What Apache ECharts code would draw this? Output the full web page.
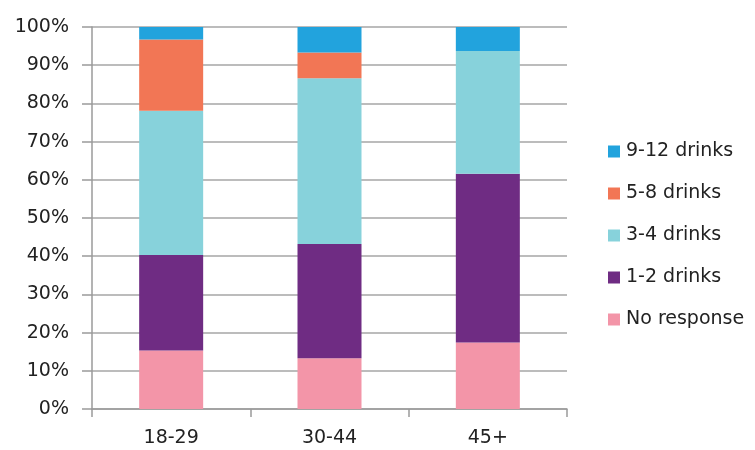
<!DOCTYPE html>
<html>
<head>
<meta charset="utf-8">
<script src="https://cdn.jsdelivr.net/npm/echarts@6/dist/echarts.min.js"></script>
<style>html,body{margin:0;padding:0;background:#fff;}#chart{width:755px;height:450px;}</style>
</head>
<body>
<div id="chart"></div>
<script>
var categories = ['18-29', '30-44', '45+'];
var noResponse = [15.3, 13.3, 17.4];
var drinks1to2 = [25.0, 29.9, 44.2];
var drinks3to4 = [37.8, 43.4, 32.1];
var drinks5to8 = [18.6, 6.7, 0];
var drinks9to12 = [3.3, 6.7, 6.3];
var yTicks = [0, 10, 20, 30, 40, 50, 60, 70, 80, 90, 100];

var seriesDefs = [
  {name: 'No response', data: noResponse, color: '#f395a8'},
  {name: '1-2 drinks', data: drinks1to2, color: '#6f2c83'},
  {name: '3-4 drinks', data: drinks3to4, color: '#87d2db'},
  {name: '5-8 drinks', data: drinks5to8, color: '#f27655'},
  {name: '9-12 drinks', data: drinks9to12, color: '#22a3dd'}
];

var chart = echarts.init(document.getElementById('chart'), null, {renderer: 'canvas'});
var font = 'DejaVu Sans';
chart.setOption({
  animation: false,
  grid: {left: 92, right: 188, top: 27, bottom: 41, containLabel: false},
  legend: {
    orient: 'vertical',
    left: 603,
    top: 136,
    itemWidth: 12,
    itemHeight: 12,
    itemGap: 21,
    icon: 'rect',
    data: seriesDefs.map(function(s){return s.name;}).reverse(),
    textStyle: {fontFamily: font, fontSize: 19, color: '#222', lineHeight: 21, padding: [0,0,0,1]}
  },
  xAxis: {
    type: 'category',
    data: categories,
    axisLine: {lineStyle: {color: '#9a9a9a', width: 1.5}},
    axisTick: {show: true, length: 8, lineStyle: {color: '#9a9a9a', width: 1.5}},
    axisLabel: {fontFamily: font, fontSize: 19, color: '#222', margin: 20}
  },
  yAxis: {
    type: 'value',
    min: yTicks[0],
    max: yTicks[yTicks.length - 1],
    interval: 10,
    axisLine: {show: true, lineStyle: {color: '#9a9a9a', width: 1.5}},
    axisTick: {show: true, length: 10, lineStyle: {color: '#9a9a9a', width: 1.5}},
    splitLine: {show: true, lineStyle: {color: '#a6a6a6', width: 1.5}},
    axisLabel: {fontFamily: font, fontSize: 19, color: '#222', margin: 23, formatter: '{value}%'}
  },
  series: seriesDefs.map(function(s){
    return {
      name: s.name,
      type: 'bar',
      stack: 'total',
      barWidth: 64,
      data: s.data,
      itemStyle: {color: s.color}
    };
  })
});
</script>
</body>
</html>
